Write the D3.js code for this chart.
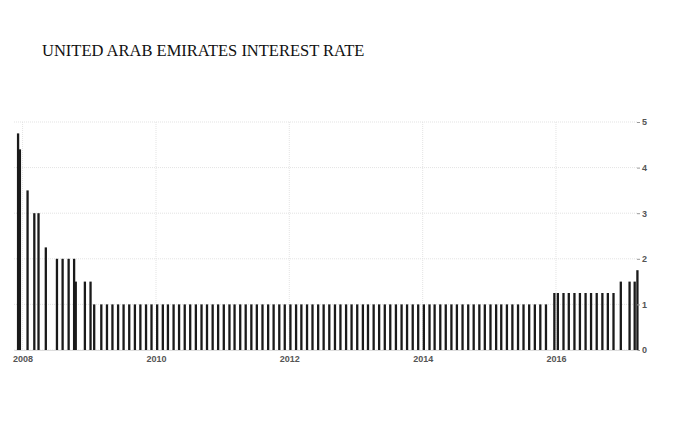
<!DOCTYPE html>
<html>
<head>
<meta charset="utf-8">
<script src="https://cdn.jsdelivr.net/npm/d3@7"></script>
<style>
  body { margin: 0; background: #fff; }
</style>
</head>
<body>
<div id="chart"></div>
<script>
const title = "UNITED ARAB EMIRATES INTEREST RATE";

// Rate change / monthly observation dates and the rate (%) at each
const dates = [
  "2007-12-01", "2007-12-11", "2008-01-22", "2008-02-28", "2008-03-22", "2008-05-01",
  "2008-07-01", "2008-08-01", "2008-09-03", "2008-10-03", "2008-10-12",
  "2008-12-01", "2009-01-01", "2009-01-21",
  "2009-03-01", "2009-04-01", "2009-05-01", "2009-06-01", "2009-07-01", "2009-08-01", "2009-09-01", "2009-10-01", "2009-11-01", "2009-12-01",
  "2010-01-01", "2010-02-01", "2010-03-01", "2010-04-01", "2010-05-01", "2010-06-01", "2010-07-01", "2010-08-01", "2010-09-01", "2010-10-01", "2010-11-01", "2010-12-01",
  "2011-01-01", "2011-02-01", "2011-03-01", "2011-04-01", "2011-05-01", "2011-06-01", "2011-07-01", "2011-08-01", "2011-09-01", "2011-10-01", "2011-11-01", "2011-12-01",
  "2012-01-01", "2012-02-01", "2012-03-01", "2012-04-01", "2012-05-01", "2012-06-01", "2012-07-01", "2012-08-01", "2012-09-01", "2012-10-01", "2012-11-01", "2012-12-01",
  "2013-01-01", "2013-02-01", "2013-03-01", "2013-04-01", "2013-05-01", "2013-06-01", "2013-07-01", "2013-08-01", "2013-09-01", "2013-10-01", "2013-11-01", "2013-12-01",
  "2014-01-01", "2014-02-01", "2014-03-01", "2014-04-01", "2014-05-01", "2014-06-01", "2014-07-01", "2014-08-01", "2014-09-01", "2014-10-01", "2014-11-01", "2014-12-01",
  "2015-01-01", "2015-02-01", "2015-03-01", "2015-04-01", "2015-05-01", "2015-06-01", "2015-07-01", "2015-08-01", "2015-09-01", "2015-10-01", "2015-11-01",
  "2015-12-17",
  "2016-01-05", "2016-02-05", "2016-03-05", "2016-04-05", "2016-05-05", "2016-06-05", "2016-07-05", "2016-08-05", "2016-09-05", "2016-10-05", "2016-11-05",
  "2016-12-15", "2017-02-01", "2017-03-01", "2017-03-16"
];
const rates = [
  4.75, 4.4, 3.5, 3, 3, 2.25,
  2, 2, 2, 2, 1.5,
  1.5, 1.5, 1,
  1, 1, 1, 1, 1, 1, 1, 1, 1, 1,
  1, 1, 1, 1, 1, 1, 1, 1, 1, 1, 1, 1,
  1, 1, 1, 1, 1, 1, 1, 1, 1, 1, 1, 1,
  1, 1, 1, 1, 1, 1, 1, 1, 1, 1, 1, 1,
  1, 1, 1, 1, 1, 1, 1, 1, 1, 1, 1, 1,
  1, 1, 1, 1, 1, 1, 1, 1, 1, 1, 1, 1,
  1, 1, 1, 1, 1, 1, 1, 1, 1, 1, 1,
  1.25,
  1.25, 1.25, 1.25, 1.25, 1.25, 1.25, 1.25, 1.25, 1.25, 1.25, 1.25,
  1.5, 1.5, 1.5, 1.75
];
const yTicks = [0, 1, 2, 3, 4, 5];
const xTickYears = [2008, 2010, 2012, 2014, 2016];

const width = 684, height = 441;
const margin = { top: 122, right: 47, bottom: 91, left: 14 };
const innerWidth = width - margin.left - margin.right;
const innerHeight = height - margin.top - margin.bottom;

const parse = d3.utcParse("%Y-%m-%d");
const data = dates.map((d, i) => ({ date: parse(d), value: rates[i] }));

const svg = d3.select("#chart")
    .append("svg")
    .attr("width", width)
    .attr("height", height);

svg.append("text")
    .attr("x", 42)
    .attr("y", 56)
    .style("font-family", "'Liberation Serif', 'Times New Roman', serif")
    .style("font-size", "16.5px")
    .attr("fill", "#111")
    .text(title);

const g = svg.append("g")
    .attr("transform", `translate(${margin.left}, ${margin.top})`);

const xScale = d3.scaleUtc()
    .domain([parse("2007-11-15"), parse("2017-03-20")])
    .range([0, innerWidth]);
const yScale = d3.scaleLinear().domain([0, 5]).range([innerHeight, 0]);

// Horizontal grid
g.selectAll(".hgrid")
    .data(yTicks)
    .join("line")
    .attr("x1", 0)
    .attr("x2", innerWidth)
    .attr("y1", d => yScale(d))
    .attr("y2", d => yScale(d))
    .attr("stroke", "#e3e3e3")
    .attr("stroke-dasharray", "1,1");

// Vertical grid
const yearDates = xTickYears.map(y => new Date(Date.UTC(y, 0, 1)));
g.selectAll(".vgrid")
    .data(yearDates)
    .join("line")
    .attr("x1", d => xScale(d))
    .attr("x2", d => xScale(d))
    .attr("y1", 0)
    .attr("y2", innerHeight)
    .attr("stroke", "#e3e3e3")
    .attr("stroke-dasharray", "1,1");

// Bars
const barWidth = 2.3;
g.selectAll(".bar")
    .data(data)
    .join("rect")
    .attr("x", d => xScale(d.date))
    .attr("y", d => yScale(d.value))
    .attr("width", barWidth)
    .attr("height", d => innerHeight - yScale(d.value))
    .attr("fill", "#1a1a1a");

// Right y-axis
const yAxis = d3.axisRight(yScale).tickValues(yTicks).tickSize(3).tickPadding(2)
    .tickFormat(d3.format("d"));
g.append("g")
    .attr("class", "y-axis")
    .attr("transform", `translate(${innerWidth}, 0)`)
    .call(yAxis)
    .call(s => s.select(".domain").remove())
    .call(s => s.selectAll("line").attr("stroke", "#999"))
    .selectAll(".tick text")
    .style("font-family", "Arial, 'Liberation Sans', sans-serif")
    .style("font-size", "9px")
    .style("font-weight", "bold")
    .attr("fill", "#555");

// Bottom x-axis
const xAxis = d3.axisBottom(xScale).tickValues(yearDates).tickSize(0).tickPadding(6)
    .tickFormat(d3.utcFormat("%Y"));
g.append("g")
    .attr("class", "x-axis")
    .attr("transform", `translate(0, ${innerHeight})`)
    .call(xAxis)
    .call(s => s.select(".domain").attr("stroke", "#ddd"))
    .selectAll(".tick text")
    .style("font-family", "Arial, 'Liberation Sans', sans-serif")
    .style("font-size", "9px")
    .style("font-weight", "bold")
    .attr("fill", "#555");
</script>
</body>
</html>
